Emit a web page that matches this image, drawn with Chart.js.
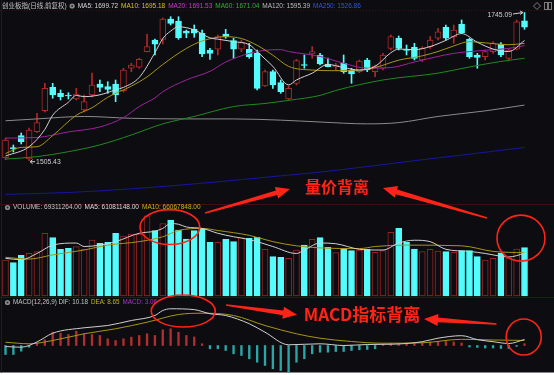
<!DOCTYPE html>
<html><head><meta charset="utf-8">
<script src="https://cdn.jsdelivr.net/npm/chart.js@4.4.1/dist/chart.umd.min.js"></script>
<style>html,body{margin:0;padding:0;background:#fff;}canvas{display:block;}</style>
</head><body>
<canvas id="c" width="554" height="375"></canvas>
<script>
// ---------- data ----------
const indexName = '创业板指(日线,前复权)';
const openP  = [1510.3,1526.8,1545.9,1508.2,1552.3,1586.3,1624.1,1614.4,1611.7,1605.2,1587.4,1611.7,1629.5,1625.1,1629.5,1618.7,1654.9,1656.5,1681.7,1700.6,1701.7,1734.6,1731.3,1715.2,1717.9,1711.5,1684.5,1685.6,1710.3,1699.5,1685.6,1685.6,1679.1,1626.2,1649.4,1631.6,1605.2,1630.6,1661.0,1678.0,1676.4,1661.8,1657.4,1662.9,1652.1,1649.4,1668.3,1649.4,1654.9,1687.2,1703.4,1685.3,1688.8,1668.3,1689.8,1703.4,1721.2,1706.0,1726.0,1701.7,1676.4,1673.6,1681.7,1694.2,1671.0,1685.6,1731.8];
const closeP = [1538.9,1524.4,1536.2,1555.1,1566.9,1622.5,1611.7,1608.9,1610.1,1613.3,1600.9,1627.9,1624.1,1620.9,1611.7,1652.1,1660.2,1669.4,1689.8,1693.7,1734.6,1727.6,1704.3,1711.5,1711.5,1678.0,1679.1,1706.0,1706.0,1685.6,1696.3,1673.6,1622.5,1649.4,1627.9,1617.0,1622.5,1667.2,1659.4,1681.7,1661.8,1657.4,1660.2,1649.4,1645.6,1666.7,1652.1,1658.6,1676.4,1706.0,1687.2,1683.6,1671.0,1687.2,1700.6,1714.0,1703.4,1716.8,1712.4,1673.6,1672.6,1681.7,1695.3,1676.4,1684.5,1730.2,1721.2];
const highP  = [1542.2,1530.8,1550.2,1558.3,1582.1,1630.6,1630.6,1619.8,1615.4,1622.5,1611.7,1647.3,1635.9,1633.2,1635.9,1654.9,1662.9,1671.0,1709.8,1702.2,1736.2,1738.3,1738.3,1716.8,1724.9,1716.8,1687.2,1708.7,1717.9,1703.4,1700.6,1695.3,1684.5,1652.1,1652.1,1635.9,1626.2,1669.4,1676.4,1689.8,1679.1,1671.5,1662.9,1676.4,1654.9,1668.3,1671.0,1660.2,1679.1,1708.7,1707.1,1692.5,1695.3,1689.8,1706.0,1719.5,1724.9,1724.9,1733.0,1703.4,1679.1,1684.5,1697.9,1696.3,1685.6,1733.0,1745.09];
const lowP   = [1507.0,1519.5,1532.5,1505.43,1551.0,1584.2,1606.4,1603.6,1605.2,1603.6,1584.2,1608.5,1617.0,1614.4,1600.9,1616.5,1649.4,1654.9,1681.2,1676.4,1694.2,1724.9,1701.7,1704.3,1705.0,1673.6,1669.4,1676.4,1703.4,1671.0,1681.7,1671.0,1619.8,1625.1,1622.5,1614.4,1603.6,1627.9,1654.9,1671.0,1660.2,1657.0,1651.0,1646.8,1630.6,1647.7,1649.4,1641.3,1652.1,1684.5,1684.5,1676.4,1668.3,1665.5,1687.2,1700.6,1700.6,1695.3,1711.5,1671.0,1654.9,1668.3,1679.1,1673.6,1668.3,1684.5,1717.9];
// volume in millions
const volume = [51.7,47.8,58.4,61.3,63.6,90,83.7,67,68.4,70.8,67,80.4,75.6,77,90,86,89,89,115,93.7,104,109,94.7,81.8,93.7,95.7,77,77,81.3,78,83.7,82.8,84.2,67,56.4,55.5,54,66,73.2,81.3,83.7,69.8,62.2,68.4,65,66,67,62.7,65,91.4,97.1,77,67.4,63.6,67,64.6,63.6,62.7,65,65,56.4,51.7,54,61.3,54.5,67.4,69.31];
const macdHist = [-15.3,-15.3,-9.7,-2.9,3.9,9.7,22.6,20.9,18.7,24.3,19.9,18.7,17,11.4,8.5,11.4,14.1,17,19.9,17,26.7,28.4,22.6,17,14.5,2.9,-5.6,-5.6,-8.5,-14.1,-17,-22.6,-28.4,-34,-39.6,-42.5,-45.4,-28.4,-22.6,-14.1,-11.4,-11.4,-10.2,-10.2,-8.5,-7.3,-6.8,-5.6,1.7,3.4,3.4,4.3,5.1,5.1,6,6.8,6.8,6,4.3,-2.6,-3.4,-4.3,-4.3,-5.1,-5.1,-1.5,3.06];
// line samples [barIndex, value]
const ma5   = [[0,1513],[3,1528],[5,1556],[6,1579],[8,1600],[9,1611],[10,1609],[12,1612],[14,1620],[15,1624],[17,1640],[19,1680],[20,1703],[21,1715],[22,1722],[24,1717],[26,1704],[27,1702],[29,1698],[31,1693],[32,1682],[33,1670],[34,1658],[36,1628],[37,1636],[39,1647],[41,1661],[43,1656],[45,1652],[47,1658],[49,1680],[50,1686],[52,1685],[54,1690],[56,1700],[58,1711],[60,1697],[62,1686],[64,1682],[66,1699.72]];
const ma10  = [[0,1517],[2,1527],[4,1528],[6,1546],[9,1579],[11,1591],[13,1608],[16,1626],[18,1641],[20,1661],[23,1687],[25,1699],[28,1706],[30,1703],[32,1692],[34,1676],[36,1658],[39,1652],[42,1651],[45,1652],[47,1656],[50,1668],[53,1675],[55,1682],[57,1691],[59,1698],[61,1696],[64,1693],[66,1695.18]];
const ma20  = [[0,1542],[4,1543],[8,1552],[12,1560],[15,1575],[17,1593],[19,1607],[20,1617],[23,1636],[26,1650],[28,1665],[31,1679],[33,1684],[35,1685],[36,1682],[40,1674],[43,1663],[46,1655],[49,1656],[52,1665],[55,1674],[57,1679],[61,1684],[64,1687],[66,1691.53]];
const ma60  = [[0,1508],[4,1512],[8,1520],[12,1531],[16,1547],[20,1565],[24,1577],[29,1593],[33,1598],[36,1603],[40,1611],[42,1619],[48,1636],[55,1647],[59,1657],[63,1666],[66,1671.04]];
const ma120 = [[0,1570],[4,1573],[10,1577],[16,1574],[23,1573],[29,1573],[35,1571],[40,1568],[46,1565],[50,1567],[55,1577],[61,1586],[66,1595.39]];
const ma250 = [[0,1451],[8,1454],[16,1460],[25,1469],[35,1481],[40,1487],[46,1496],[53,1507],[59,1516],[66,1526.86]];
const volMa5  = [[0,54],[2,52],[4,61],[6,73],[9,76],[10,71],[12,73],[14,78],[17,90],[19,93],[20,97],[21,104],[22,103],[23,99],[25,97],[27,90],[29,85],[31,81],[34,71],[37,61],[38,66],[40,76],[42,75],[45,67],[47,66],[48,66],[50,76],[52,80],[54,78],[56,67],[59,64],[61,61],[64,56],[66,61.08]];
const volMa10 = [[0,55.5],[3,53],[6,59],[10,66],[13,73],[17,78],[20,85],[22,94],[25,97],[27,94],[31,87],[34,78],[37,72],[40,69],[45,68],[47,71],[51,73],[58,72],[62,64],[66,62]];
const dif = [[0,-1.7],[2,-2.9],[4,6],[6,20.9],[10,30.1],[13,34],[16,42.5],[19,51],[20,59.5],[21,62.4],[24,61],[26,54],[28,51],[31,37],[33,22.6],[36,1.2],[40,2.9],[43,0],[46,1.7],[49,2.2],[51,3.4],[53,6.5],[55,12.4],[58,16.7],[60,10],[62,6.5],[64,3.4],[66,10.18]];
const dea = [[0,5.6],[3,2.9],[6,8.5],[10,19.9],[14,28.4],[18,39.6],[22,52.7],[25,54.9],[29,51],[33,34],[37,19.9],[40,12.4],[44,6.8],[48,3.9],[53,4.6],[58,10.5],[62,9.35],[66,8.65]];
// header texts
const maNames = ['MA5','MA10','MA20','MA60','MA120','MA250'];
const maLast  = [1699.72,1695.18,1691.53,1671.04,1595.39,1526.86];
const volHeader  = ['VOLUME: 69311264.00','MA5: 61081148.00','MA10: 66067848.00'];
const macdHeader = ['MACD(12,26,9) DIF: 10.18','DEA: 8.65','MACD: 3.06'];
// annotations (anchored in data units)
const noteTexts = [
  {text:'量价背离', axis:'yP', x:42.15, y:1462.9, size:16},
  {text:'MACD指标背离', axis:'yM', x:45.33, y:51.85, size:17}
];
const noteEllipses = [
  {axis:'yV', x:20.9, y:99, rx:3.8, ry:25},
  {axis:'yV', x:65.55, y:83, rx:3.05, ry:33},
  {axis:'yM', x:22.6, y:58.6, rx:4.07, ry:27.2},
  {axis:'yM', x:65.9, y:14.5, rx:2.23, ry:30.6}
];
const noteArrows = [
  {from:[25.37,'yV',119.1], to:[36.18,'yP',1459.7]},
  {from:[61.23,'yV',111.9], to:[48.0,'yP',1461.3]},
  {from:[28.04,'yM',68.85], to:[37.07,'yM',52.36]},
  {from:[62.44,'yM',36.55], to:[53.22,'yM',45.05]}
];

// ---------- styles ----------
const BG = '#0d0d11';
const UP = '#b02828';
const DOWN = '#54fcfc';
const maColors = ['#d2d2d2','#a89414','#9a249a','#1f8a1f','#8a8a8a','#16169e'];
const maHeadColors = ['#d8d8d8','#d8c21c','#cc3ccc','#2cb42c','#bdbdbd','#3454e4'];
const NOTE = '#ff2418';

const up = closeP.map((c,i)=>c>=openP[i]);
const pts = arr => arr.map(([x,y])=>({x,y}));
const lineDs = (arr,color,axis) => ({type:'line',data:pts(arr),yAxisID:axis,borderColor:color,borderWidth:1,pointRadius:0,cubicInterpolationMode:'monotone',order:0});

const datasets = [
  {type:'bar',yAxisID:'yP',data:openP.map((o,i)=>({x:i,y:[o,closeP[i]]})),
   backgroundColor:up.map(u=>u?BG:DOWN),borderColor:up.map(u=>u?UP:DOWN),borderWidth:1,borderSkipped:false,
   barThickness:6,grouped:false,minBarLength:1,order:1},
  {type:'bar',yAxisID:'yP',data:lowP.map((l,i)=>({x:i,y:[l,highP[i]]})),
   backgroundColor:up.map(u=>u?UP:DOWN),borderWidth:0,barThickness:1,grouped:false,order:2},
  lineDs(ma5,maColors[0],'yP'),lineDs(ma10,maColors[1],'yP'),lineDs(ma20,maColors[2],'yP'),
  lineDs(ma60,maColors[3],'yP'),lineDs(ma120,maColors[4],'yP'),lineDs(ma250,maColors[5],'yP'),
  {type:'bar',yAxisID:'yV',data:volume.map((v,i)=>({x:i,y:v})),
   backgroundColor:up.map(u=>u?BG:DOWN),borderColor:up.map(u=>u?'#9a2222':DOWN),borderWidth:1,borderSkipped:false,
   barThickness:6,grouped:false,order:1},
  lineDs(volMa5,'#cfcfcf','yV'),lineDs(volMa10,'#a89414','yV'),
  {type:'bar',yAxisID:'yM',data:macdHist.map((v,i)=>({x:i,y:v})),
   backgroundColor:macdHist.map(v=>v>=0?'#b02e2e':'#2aa6a6'),borderWidth:0,barThickness:1.7,grouped:false,order:1},
  lineDs(dif,'#cfcfcf','yM'),lineDs(dea,'#a89414','yM')
];

function flow(ctx, x, y, items, gap){
  items.forEach(it=>{
    if(it.gear){
      ctx.beginPath();ctx.arc(x+2.5,y,2.6,0,Math.PI*2);ctx.fillStyle='#8a8a8a';ctx.fill();
      ctx.beginPath();ctx.arc(x+2.5,y,1,0,Math.PI*2);ctx.fillStyle='#2a2a2a';ctx.fill();
      x+=5+gap;return;
    }
    ctx.fillStyle=it.c;ctx.fillText(it.t,x,y);x+=ctx.measureText(it.t).width+gap;
  });
}

function arrow(ctx,x1,y1,x2,y2){
  const a=Math.atan2(y2-y1,x2-x1),len=Math.hypot(x2-x1,y2-y1);
  const hl=Math.min(14,len*0.4),hw=12;
  const nx=-Math.sin(a),ny=Math.cos(a);
  const bx=x2-hl*Math.cos(a),by=y2-hl*Math.sin(a);
  ctx.fillStyle=NOTE;
  ctx.beginPath();
  ctx.moveTo(x1+nx*0.8,y1+ny*0.8);
  ctx.lineTo(bx+nx*2.4,by+ny*2.4);
  ctx.lineTo(bx+nx*hw/2,by+ny*hw/2);
  ctx.lineTo(x2,y2);
  ctx.lineTo(bx-nx*hw/2,by-ny*hw/2);
  ctx.lineTo(bx-nx*2.4,by-ny*2.4);
  ctx.lineTo(x1-nx*0.8,y1-ny*0.8);
  ctx.closePath();ctx.fill();
}

const deco = {
  id:'deco',
  beforeDraw(chart){
    const {ctx,width,height}=chart;
    ctx.save();
    ctx.fillStyle='#ffffff';ctx.fillRect(0,0,width,height);
    ctx.fillStyle=BG;ctx.fillRect(0,0,width,height-2.5);
    ctx.strokeStyle='#3e1010';ctx.lineWidth=1;
    ctx.beginPath();
    ctx.moveTo(0,204.5);ctx.lineTo(width,204.5);
    ctx.moveTo(0,297.5);ctx.lineTo(width,297.5);
    ctx.moveTo(1.5,0);ctx.lineTo(1.5,height-2.5);
    ctx.stroke();
    ctx.setLineDash([1,2]);
    ctx.beginPath();ctx.moveTo(0,10.5);ctx.lineTo(width,10.5);ctx.stroke();
    ctx.restore();
  },
  afterDraw(chart){
    const {ctx}=chart;const sx=chart.scales.x;
    const X=v=>sx.getPixelForValue(v);
    const Y=(ax,v)=>chart.scales[ax].getPixelForValue(v);
    ctx.save();
    ctx.textBaseline='middle';
    ctx.font='6.5px "Liberation Sans","Noto Sans CJK SC",sans-serif';
    const mainItems=[{t:indexName,c:'#c4c4c4'},{gear:true}];
    maNames.forEach((n,i)=>mainItems.push({t:n+': '+maLast[i].toFixed(2),c:maHeadColors[i]}));
    flow(ctx,2,6,mainItems,3);
    ctx.strokeStyle='#7a7a7a';ctx.lineWidth=1;
    ctx.beginPath();ctx.moveTo(537,2.5);ctx.lineTo(540.5,6);ctx.lineTo(537,9.5);ctx.lineTo(533.5,6);ctx.closePath();ctx.stroke();
    ctx.strokeRect(544.5,2.5,7,7);ctx.fillStyle='#7a7a7a';ctx.fillRect(547,3,2,6);
    ctx.font='6.5px "Liberation Sans",sans-serif';
    flow(ctx,5,207.5,[{gear:true},{t:volHeader[0],c:'#c4c4c4'},{t:volHeader[1],c:'#dcdcdc'},{t:volHeader[2],c:'#c8b418'}],3);
    ctx.font='6.3px "Liberation Sans",sans-serif';
    flow(ctx,5,302.5,[{gear:true},{t:macdHeader[0],c:'#c4c4c4'},{t:macdHeader[1],c:'#c8b418'},{t:macdHeader[2],c:'#b030c8'}],3);
    let hi=0,lo=0;
    highP.forEach((v,i)=>{if(v>highP[hi])hi=i;});
    lowP.forEach((v,i)=>{if(v<lowP[lo])lo=i;});
    ctx.font='6.8px "Liberation Sans",sans-serif';ctx.fillStyle='#d0d0d0';ctx.strokeStyle='#d0d0d0';
    const hx=X(hi)-1.5,hy=Y('yP',highP[hi]);
    ctx.textAlign='right';ctx.fillText(highP[hi].toFixed(2),hx-11,hy+2.5);
    ctx.beginPath();ctx.moveTo(hx-10,hy+1.5);ctx.lineTo(hx,hy);ctx.moveTo(hx,hy);ctx.lineTo(hx-3,hy-1.5);ctx.moveTo(hx,hy);ctx.lineTo(hx-3,hy+2);ctx.stroke();
    const lx=X(lo)+1,ly=Y('yP',lowP[lo])+1;
    ctx.textAlign='left';ctx.fillText(lowP[lo].toFixed(2),lx+6,ly);
    ctx.beginPath();ctx.moveTo(lx,ly);ctx.lineTo(lx+5,ly);ctx.moveTo(lx,ly);ctx.lineTo(lx+2.5,ly-2);ctx.moveTo(lx,ly);ctx.lineTo(lx+2.5,ly+2);ctx.stroke();
    const unit=X(1)-X(0);
    ctx.strokeStyle=NOTE;ctx.lineWidth=1.6;
    noteEllipses.forEach(e=>{
      const cx=X(e.x),cy=Y(e.axis,e.y),ry=Math.abs(Y(e.axis,e.y+e.ry)-cy);
      ctx.beginPath();ctx.ellipse(cx,cy,e.rx*unit,ry,0,0,Math.PI*2);ctx.stroke();
    });
    noteArrows.forEach(a=>arrow(ctx,X(a.from[0]),Y(a.from[1],a.from[2]),X(a.to[0]),Y(a.to[1],a.to[2])));
    ctx.textAlign='center';ctx.fillStyle=NOTE;
    noteTexts.forEach(t=>{ctx.font='bold '+t.size+'px "Noto Sans CJK SC",sans-serif';ctx.fillText(t.text,X(t.x),Y(t.axis,t.y));});
    ctx.restore();
  }
};

new Chart(document.getElementById('c'),{
  type:'bar',
  data:{datasets},
  options:{
    responsive:false,animation:false,devicePixelRatio:1,events:[],
    layout:{padding:0,autoPadding:false},
    plugins:{legend:{display:false},tooltip:{enabled:false}},
    scales:{
      x:{type:'linear',min:-0.7,max:69.75,offset:false,display:false},
      yP:{type:'linear',min:1158.9,max:1765.3,display:false},
      yV:{type:'linear',min:-113.4,max:424.8,display:false},
      yM:{type:'linear',min:-50.15,max:587.35,display:false}
    }
  },
  plugins:[deco]
});
</script>
</body></html>
